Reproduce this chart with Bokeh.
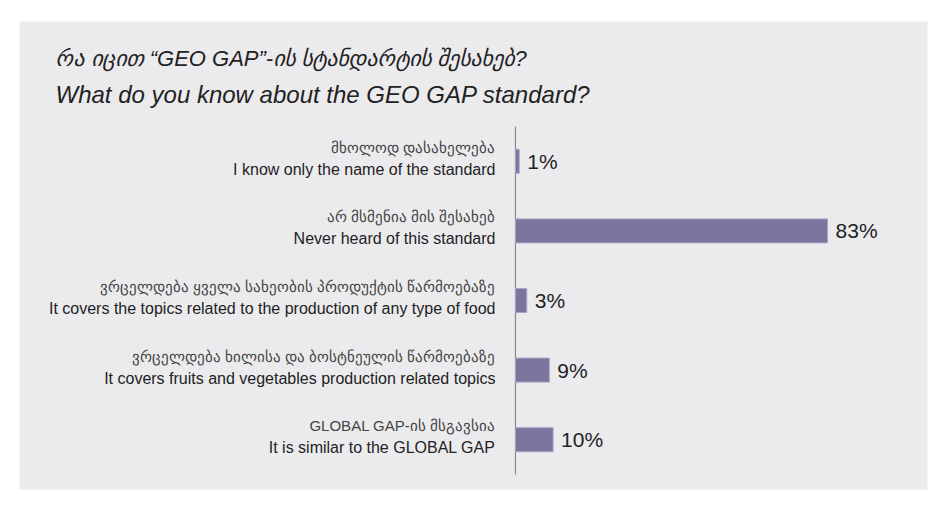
from bokeh.plotting import figure
from bokeh.models import Range1d, Label, ColumnDataSource
from bokeh.core.properties import value
from bokeh.embed import file_html
from bokeh.resources import INLINE

# ---- data ----
labels_ka = [
    "მხოლოდ დასახელება",
    "არ მსმენია მის შესახებ",
    "ვრცელდება ყველა სახეობის პროდუქტის წარმოებაზე",
    "ვრცელდება ხილისა და ბოსტნეულის წარმოებაზე",
    "GLOBAL GAP-ის მსგავსია",
]
labels_en = [
    "I know only the name of the standard",
    "Never heard of this standard",
    "It covers the topics related to the production of any type of food",
    "It covers fruits and vegetables production related topics",
    "It is similar to the GLOBAL GAP",
]
values = [1, 83, 3, 9, 10]
title_ka = "რა იცით “GEO GAP”-ის სტანდარტის შესახებ?"
title_en = "What do you know about the GEO GAP standard?"

idx = list(range(len(values)))
src = ColumnDataSource(dict(
    y=idx, v=values, ka=labels_ka, en=labels_en,
    vl=[f"{v}%" for v in values],
))

X0, X1 = -131.91, 109.58
Y_BOT, Y_TOP = 4.7155, -2.0086
W, H = 932, 497
p = figure(width=W, height=H, output_backend="svg", toolbar_location=None,
           x_axis_type=None, y_axis_type=None,
           x_range=Range1d(X0, X1), y_range=Range1d(Y_BOT, Y_TOP),
           min_border_left=19, min_border_top=21, min_border_right=5, min_border_bottom=8)
p.border_fill_color = "white"
p.background_fill_color = "#ebebee"
p.outline_line_color = None
p.grid.visible = False

# axis line
p.segment(x0=0, y0=-0.5, x1=0, y1=len(values) - 0.5, line_color="#8a8a8a", line_width=1.2)

# bars
p.hbar(y="y", left=0, right="v", height=0.345, source=src,
       fill_color="#7e759f", line_color="#aaa3c6", line_width=1)

# value labels
p.text(x="v", y="y", text="vl", source=src, x_offset=8, y_offset=0,
       text_baseline="middle", text_align="left",
       text_font=value("Liberation Sans"), text_font_size="21px", text_color="#222222")

# category labels
p.text(x=0, y="y", text="ka", source=src, x_offset=-20, y_offset=-14,
       text_baseline="middle", text_align="right",
       text_font=value("Liberation Sans"), text_font_size="15px", text_color="#444444")
p.text(x=0, y="y", text="en", source=src, x_offset=-20, y_offset=8,
       text_baseline="middle", text_align="right",
       text_font=value("Liberation Sans"), text_font_size="16px", text_color="#222222")

# titles (positioned in data units of the panel)
tx = X0 + 36 / 3.76
p.add_layout(Label(x=tx, y=Y_TOP + 37 / 69.6, text=title_ka,
                   text_font="Liberation Sans", text_font_style="italic",
                   text_font_size="22px", text_color="#222222", text_baseline="alphabetic"))
p.add_layout(Label(x=tx, y=Y_TOP + 73 / 69.6, text=title_en,
                   text_font="Liberation Sans", text_font_style="italic",
                   text_font_size="24px", text_color="#222222", text_baseline="alphabetic"))

open("out.html", "w").write(file_html(p, INLINE))
